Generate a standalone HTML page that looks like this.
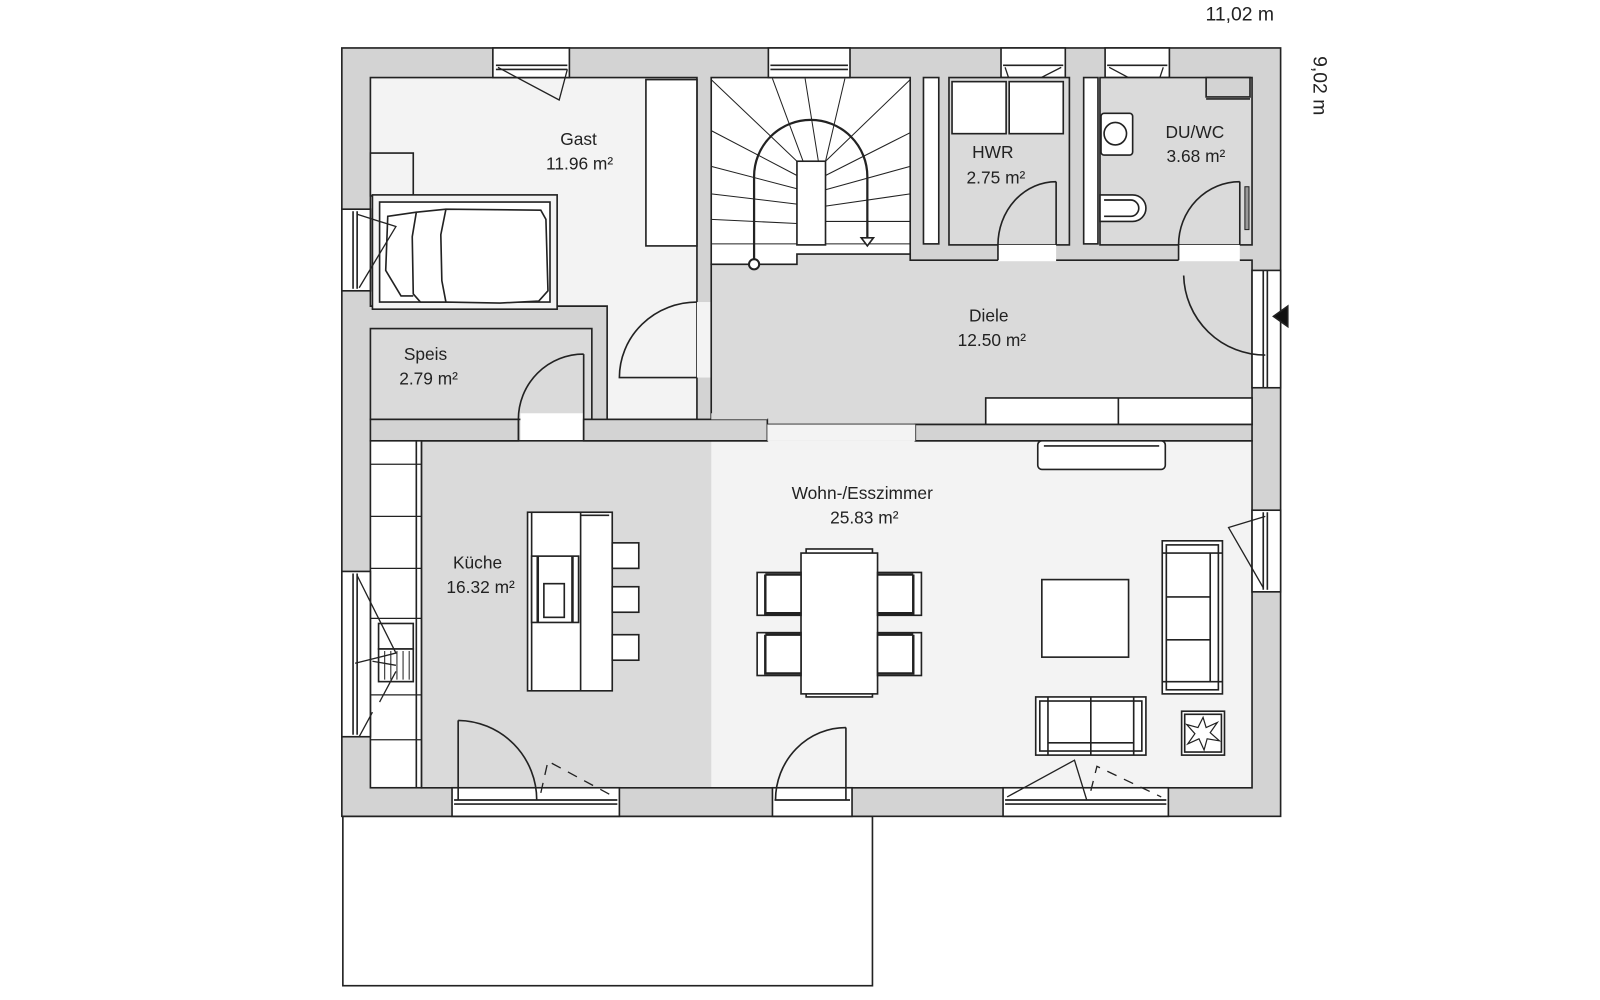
<!DOCTYPE html>
<html><head><meta charset="utf-8"><style>
html,body{margin:0;padding:0;background:#fff;width:1600px;height:1000px;overflow:hidden}
svg{display:block}
text{font-family:"Liberation Sans","DejaVu Sans",sans-serif;fill:#222}
</style></head><body>
<svg width="1600" height="1000" viewBox="0 0 1568 980" xmlns="http://www.w3.org/2000/svg">
<g stroke="#222" stroke-width="1.6" fill="none">
<rect x="336" y="800" width="519" height="166" fill="#fff"/>
<rect x="335" y="47" width="920" height="753" fill="#d3d3d3"/>

<path d="M363 76 H683 V411 H595 V300 H363 Z" fill="#f3f3f3"/>
<rect x="633" y="78" width="50" height="163" fill="#fff"/>
<rect x="363" y="150" width="42" height="42" fill="#f3f3f3"/>
<rect x="365" y="191" width="181" height="112" fill="#f3f3f3"/>
<rect x="372" y="198" width="167" height="98" fill="#fff"/>
<path d="M408 208 L437 205 L530 206 L535 215 L537 285 L528 295 L490 297 L437 296 L412 296 L405 288 L404 232 Z" fill="#fff"/>
<path d="M437 205 L432 230 L433 275 L437 296"/>
<path d="M408 208 L380 212 L378 265 L393 290 L405 290"/>

<rect x="363" y="322" width="217" height="89" fill="#dadada"/>
<rect x="510" y="405" width="62" height="28" fill="#fff" stroke="none"/>
<path d="M572 347 V411 M572 347 A64 64 0 0 0 508 411 V432 M572 411 V432"/>

<rect x="683" y="296" width="14" height="74" fill="#f3f3f3" stroke="none"/>
<path d="M683 296 A76 74 0 0 0 607 370 H683"/>

<rect x="697" y="76" width="195" height="183" fill="#fff"/>
<rect x="781" y="158" width="28" height="82" fill="#fff"/>
<g stroke-width="1">
<path d="M697 78 L781 158 M697 128 L781 172 M697 163 L781 185 M697 190 L781 200 M697 215 L781 219 M697 239 L781 239"/>
<path d="M757 77 L787 158 M789 77 L802 158 M828 77 L809 158"/>
<path d="M892 78 L809 158 M892 130 L809 172 M892 163 L809 186 M892 190 L809 202 M892 217 L809 217 M892 239 L809 239 M809 249 H892"/>
</g>
<path d="M697 259 H781 V249 H809 V249 H892 V255 H1227 V416 H697 Z" fill="#dadada"/>
<path d="M739 259 V173 A55.5 55.5 0 0 1 850 173 V233" stroke-width="2.2"/>
<circle cx="739" cy="259" r="5" fill="#fff" stroke-width="2"/>
<path d="M844 233 H856 L850 241 Z" fill="#fff" stroke-width="1.6"/>
<rect x="966" y="390" width="261" height="26" fill="#fff"/>
<line x1="1096" y1="390" x2="1096" y2="416"/>

<rect x="483" y="47" width="75" height="29" fill="#fff"/>
<line x1="486" y1="64" x2="556" y2="64"/><line x1="486" y1="68" x2="556" y2="68"/>
<path d="M488 66 L548 98 L556 68" stroke-width="1.3"/>
<rect x="753" y="47" width="80" height="29" fill="#fff"/>
<line x1="755" y1="64" x2="831" y2="64"/><line x1="755" y1="68" x2="831" y2="68"/>
<rect x="981" y="47" width="63" height="29" fill="#fff"/>
<line x1="983" y1="64" x2="1042" y2="64"/>
<path d="M985 66 L993 90 L1040 66" stroke-width="1.3"/>
<rect x="1083" y="47" width="63" height="29" fill="#fff"/>
<line x1="1085" y1="64" x2="1144" y2="64"/>
<path d="M1087 66 L1132 90 L1140 66" stroke-width="1.3"/>

<rect x="905" y="76" width="15" height="163" fill="#fff"/>
<rect x="930" y="76" width="118" height="164" fill="#dadada"/>
<rect x="933" y="80" width="53" height="51" fill="#fff"/>
<rect x="989" y="80" width="53" height="51" fill="#fff"/>
<rect x="978" y="240" width="57" height="16" fill="#fff" stroke="none"/>
<path d="M1035 178 V240 M1035 178 A57 62 0 0 0 978 240 V255"/>

<rect x="1062" y="76" width="14" height="163" fill="#fff"/>
<rect x="1078" y="76" width="149" height="164" fill="#dadada"/>
<rect x="1182" y="76" width="43" height="19" fill="#d3d3d3"/>
<line x1="1182" y1="97" x2="1225" y2="97"/>
<rect x="1079" y="111" width="31" height="41" rx="3" fill="#fff"/>
<circle cx="1093" cy="131" r="11" fill="#fff"/>
<path d="M1078 191 H1110 A13 13 0 0 1 1110 217 H1078 Z" fill="#fff"/>
<path d="M1082 196 H1108 A8 8 0 0 1 1108 212 H1082"/>
<rect x="1155" y="240" width="60" height="16" fill="#fff" stroke="none"/>
<path d="M1215 178 V240 M1215 178 A60 62 0 0 0 1155 240 V255"/>
<rect x="1220" y="183" width="4" height="42" fill="#999" stroke-width="1"/>

<rect x="1227" y="265" width="28" height="115" fill="#fff"/>
<line x1="1238" y1="265" x2="1238" y2="380"/><line x1="1242" y1="265" x2="1242" y2="380"/>
<path d="M1160 270 A80 80 0 0 0 1240 348"/>
<path d="M1262 300 L1248 310 L1262 320 Z" fill="#111"/>

<rect x="413" y="432" width="284" height="340" fill="#dadada" stroke="none"/>
<rect x="697" y="432" width="530" height="340" fill="#f3f3f3" stroke="none"/>
<path d="M752 432 H413 V772 H1227 V432 H897"/>
<rect x="363" y="411" width="145" height="21" fill="#d3d3d3"/>
<rect x="572" y="411" width="180" height="21" fill="#d3d3d3"/>
<rect x="897" y="416" width="330" height="16" fill="#d3d3d3"/>
<rect x="752" y="416" width="145" height="16" fill="#f3f3f3" stroke="none"/>
<rect x="697" y="405" width="55" height="6" fill="#dadada" stroke="none"/>
<rect x="363" y="432" width="50" height="340" fill="#fff"/>
<line x1="408" y1="432" x2="408" y2="772"/>
<g stroke-width="1.2">
<line x1="363" y1="455" x2="413" y2="455"/><line x1="363" y1="506" x2="413" y2="506"/><line x1="363" y1="557" x2="413" y2="557"/>
<line x1="363" y1="606" x2="413" y2="606"/><line x1="363" y1="681" x2="413" y2="681"/><line x1="363" y1="725" x2="413" y2="725"/>
</g>
<rect x="371" y="611" width="34" height="25" fill="#fff"/>
<rect x="371" y="636" width="34" height="32" fill="#fff"/>
<path d="M377 638 V666 M383 638 V666 M389 638 V666 M395 638 V666 M401 638 V666" stroke-width="1"/>
<rect x="335" y="560" width="28" height="162" fill="#fff"/>
<line x1="346" y1="562" x2="346" y2="720"/><line x1="350" y1="562" x2="350" y2="720"/>
<path d="M350 564 L388 640 L348 650" stroke-width="1.3"/>
<path d="M365 648 L388 652 M388 658 L372 688 M365 698 L352 722" stroke-width="1.3"/>
<rect x="517" y="502" width="83" height="175" fill="#fff"/>
<line x1="569" y1="502" x2="569" y2="677"/><line x1="521" y1="502" x2="521" y2="677"/>
<line x1="569" y1="505" x2="597" y2="505"/>
<rect x="521" y="545" width="46" height="65" fill="#fff"/>
<line x1="527" y1="545" x2="527" y2="610" stroke-width="2.5"/><line x1="561" y1="545" x2="561" y2="610" stroke-width="2.5"/>
<rect x="533" y="572" width="20" height="33" fill="#fff"/>
<rect x="600" y="532" width="26" height="25" fill="#fff"/>
<rect x="600" y="575" width="26" height="25" fill="#fff"/>
<rect x="600" y="622" width="26" height="25" fill="#fff"/>
<rect x="790" y="538" width="65" height="145" fill="#fff"/>
<rect x="785" y="542" width="75" height="138" fill="#fff"/>
<g fill="#fff">
<rect x="742" y="561" width="43" height="42"/><rect x="742" y="620" width="43" height="42"/>
<rect x="860" y="561" width="43" height="42"/><rect x="860" y="620" width="43" height="42"/>
</g>
<path d="M750 563 V601 H785 M750 563 H785 M750 622 V660 H785 M750 622 H785 M895 563 V601 H860 M895 563 H860 M895 622 V660 H860 M895 622 H860" stroke-width="2.4"/>
<rect x="1017" y="432" width="125" height="28" rx="4" fill="#fff"/>
<line x1="1023" y1="437" x2="1136" y2="437"/>
<rect x="1021" y="568" width="85" height="76" fill="#fff"/>
<rect x="1139" y="530" width="59" height="150" fill="#fff"/>
<rect x="1143" y="534" width="51" height="142" fill="#fff"/>
<line x1="1139" y1="542" x2="1198" y2="542"/><line x1="1139" y1="668" x2="1198" y2="668"/>
<line x1="1186" y1="542" x2="1186" y2="668"/>
<line x1="1143" y1="585" x2="1186" y2="585"/><line x1="1143" y1="627" x2="1186" y2="627"/>
<rect x="1015" y="683" width="108" height="57" fill="#fff"/>
<rect x="1019" y="687" width="100" height="49" fill="#fff"/>
<line x1="1027" y1="683" x2="1027" y2="740"/><line x1="1111" y1="683" x2="1111" y2="740"/>
<line x1="1027" y1="728" x2="1111" y2="728"/><line x1="1069" y1="683" x2="1069" y2="740"/>
<rect x="1158" y="697" width="42" height="43" fill="#fff"/>
<rect x="1161" y="700" width="36" height="37" fill="#fff"/>
<path d="M1179 703 L1182 713 L1193 708 L1186 718 L1195 726 L1183 724 L1180 735 L1175 724 L1164 729 L1171 719 L1163 710 L1174 713 Z" fill="#fff" stroke-width="1.2"/>
<rect x="1227" y="500" width="28" height="80" fill="#fff"/>
<line x1="1238" y1="502" x2="1238" y2="578"/><line x1="1242" y1="502" x2="1242" y2="578"/>
<path d="M1240 506 L1204 517 L1238 576" stroke-width="1.3"/>

<rect x="443" y="772" width="164" height="28" fill="#fff"/>
<line x1="445" y1="784" x2="605" y2="784"/><line x1="445" y1="788" x2="605" y2="788"/>
<path d="M449 706 V784 M449 706 A78 78 0 0 1 526 784" />
<path d="M530 777 L537 746 L604 782" stroke-width="1.3" stroke-dasharray="10 8"/>
<rect x="757" y="772" width="78" height="28" fill="#fff"/>
<line x1="759" y1="784" x2="833" y2="784"/>
<path d="M829 713 V784 M829 713 A69 71 0 0 0 760 784"/>
<rect x="983" y="772" width="162" height="28" fill="#fff"/>
<line x1="985" y1="784" x2="1143" y2="784"/><line x1="985" y1="788" x2="1143" y2="788"/>
<path d="M987 781 L1053 745 L1065 784" stroke-width="1.3"/>
<path d="M1069 775 L1075 751 L1138 781" stroke-width="1.3" stroke-dasharray="10 8"/>
<rect x="335" y="205" width="28" height="80" fill="#fff"/>
<line x1="346" y1="207" x2="346" y2="283"/><line x1="350" y1="207" x2="350" y2="283"/>
<path d="M350 210 L388 222 L352 282" stroke-width="1.3"/>
</g>

<g font-size="17" text-anchor="middle">
<text x="567" y="142">Gast</text><text x="568" y="166">11.96 m²</text>
<text x="417" y="353">Speis</text><text x="420" y="377">2.79 m²</text>
<text x="973" y="155">HWR</text><text x="976" y="180">2.75 m²</text>
<text x="1171" y="135">DU/WC</text><text x="1172" y="159">3.68 m²</text>
<text x="969" y="315">Diele</text><text x="972" y="339">12.50 m²</text>
<text x="845" y="489">Wohn-/Esszimmer</text><text x="847" y="513">25.83 m²</text>
<text x="468" y="557">Küche</text><text x="471" y="581">16.32 m²</text>
<text x="1215" y="20" font-size="19">11,02 m</text>
<text transform="translate(1287,84) rotate(90)" font-size="19">9,02 m</text>
</g>
</svg>
</body></html>
